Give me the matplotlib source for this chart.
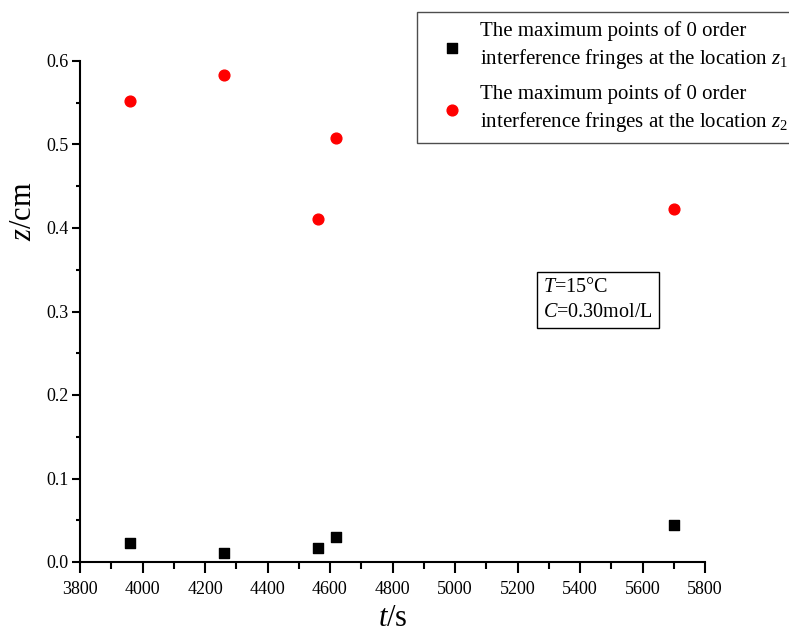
import numpy as np
import matplotlib
matplotlib.use('Agg')
import matplotlib.pyplot as plt
from matplotlib.ticker import MultipleLocator

plt.rcParams['font.family'] = ['Liberation Serif', 'DejaVu Serif']
plt.rcParams['mathtext.fontset'] = 'custom'
plt.rcParams['mathtext.rm'] = 'Liberation Serif'
plt.rcParams['mathtext.it'] = 'Liberation Serif:italic'
plt.rcParams['mathtext.fallback'] = 'stix'

# data
t_z1 = [3960, 4260, 4560, 4620, 5700]
z1 = [0.023, 0.011, 0.017, 0.030, 0.044]
t_z2 = [3960, 4260, 4560, 4620, 5700]
z2 = [0.552, 0.583, 0.411, 0.508, 0.423]

label1 = 'The maximum points of 0 order\ninterference fringes at the location $z_1$'
label2 = 'The maximum points of 0 order\ninterference fringes at the location $z_2$'

fig = plt.figure(figsize=(7.89, 6.35), dpi=100)
ax = fig.add_axes([80/789, 1 - 562/635, 625/789, 501/635])

ax.scatter(t_z1, z1, marker='s', s=50, color='black', label=label1, zorder=3)
ax.scatter(t_z2, z2, marker='o', s=60, color='red', label=label2, zorder=3)

ax.set_xlim(3800, 5800)
ax.set_ylim(0, 0.6)
ax.xaxis.set_major_locator(MultipleLocator(200))
ax.xaxis.set_minor_locator(MultipleLocator(100))
ax.yaxis.set_major_locator(MultipleLocator(0.1))
ax.yaxis.set_minor_locator(MultipleLocator(0.05))
ax.yaxis.set_major_formatter(plt.FormatStrFormatter('%.1f'))

for s in ['top', 'right']:
    ax.spines[s].set_visible(False)
for s in ['left', 'bottom']:
    ax.spines[s].set_linewidth(1.5)
ax.tick_params(axis='x', which='major', direction='out', length=8, width=1.5, labelsize=13, pad=6)
ax.tick_params(axis='x', which='minor', direction='out', length=5, width=1.5)
ax.tick_params(axis='y', which='major', direction='out', length=6, width=1.5, labelsize=13, pad=2)
ax.tick_params(axis='y', which='minor', direction='out', length=3, width=1.5)

ax.set_xlabel('$t$/s', fontsize=22, labelpad=4)
ax.set_ylabel('$z$/cm', fontsize=22, va='center')
ax.yaxis.set_label_coords(-0.091, 0.70)

leg = ax.legend(loc='upper right', bbox_to_anchor=(798/789, 1 - 12/635),
                bbox_transform=fig.transFigure, fontsize=15, frameon=True,
                fancybox=False, edgecolor='0.3', framealpha=1,
                borderaxespad=0, handletextpad=0.1, borderpad=0.45,
                labelspacing=0.6, handlelength=2.5)
leg.get_frame().set_linewidth(1.0)
for txt in leg.get_texts():
    txt.set_linespacing(1.35)

ax.text(0.741, 0.567, '$T$=15\u00b0C\n$C$=0.30mol/L', transform=ax.transAxes,
        fontsize=14.5, va='top', ha='left', linespacing=1.4,
        bbox=dict(boxstyle='square,pad=0.3', facecolor='white', edgecolor='black', linewidth=1.0))

fig.savefig('out.png', dpi=100)
